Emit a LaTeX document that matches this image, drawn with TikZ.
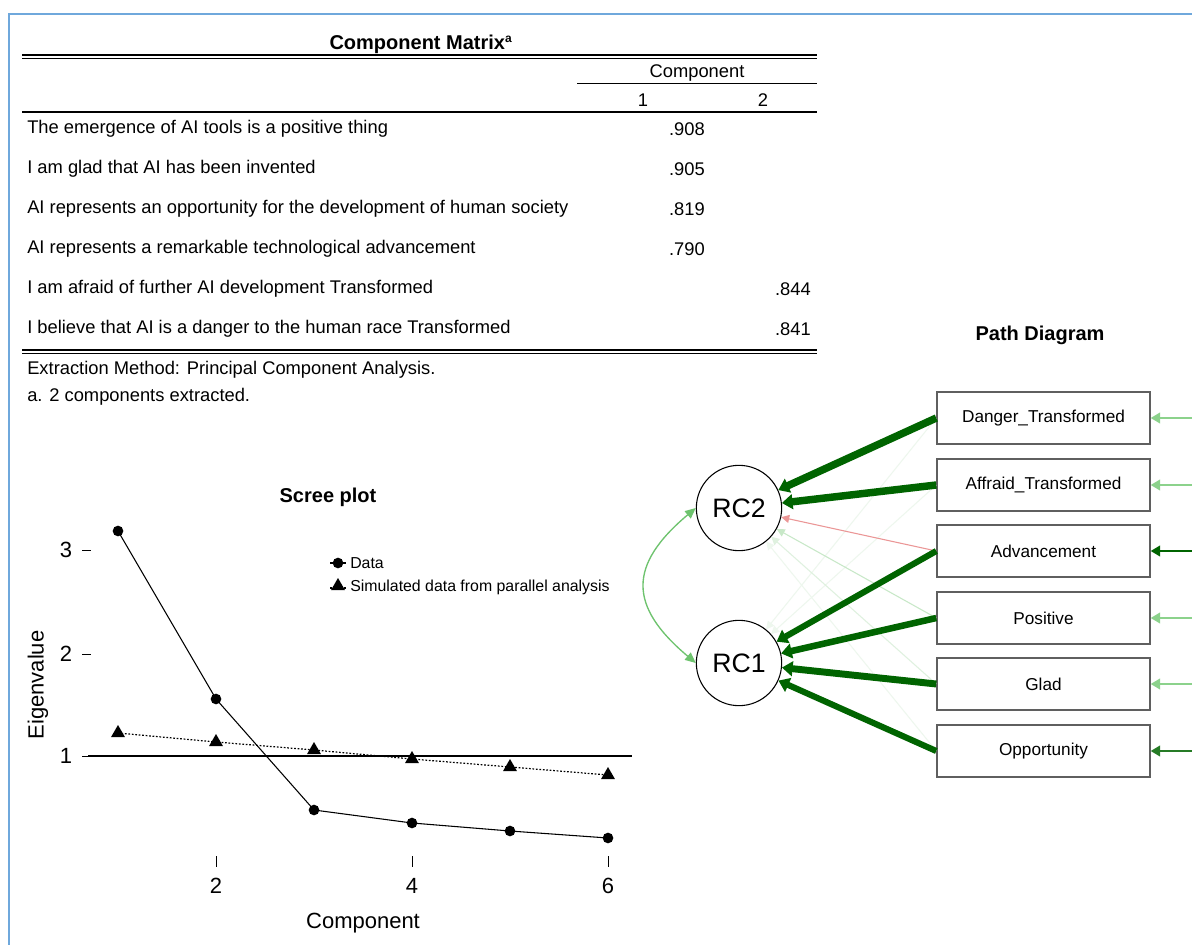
\documentclass[tikz,border=0pt]{standalone}
\usepackage{fontspec}
\setmainfont{Liberation Sans}
\usetikzlibrary{arrows.meta,shapes.geometric}
\definecolor{frameblue}{RGB}{111,168,220}
\definecolor{dgreen}{RGB}{0,100,0}
\definecolor{lgreen}{RGB}{110,195,110}
\definecolor{rgreen}{RGB}{140,210,140}
\definecolor{fgreen}{RGB}{200,232,200}
\definecolor{vfgreen}{RGB}{238,247,238}
\definecolor{lred}{RGB}{235,150,150}
\definecolor{boxgray}{RGB}{95,95,95}
\begin{document}
\begin{tikzpicture}[x=0.75pt,y=-0.75pt,
  every node/.style={font=\fontsize{13.75}{16}\selectfont},
  txt/.style={yshift=-1.5pt},
  rowtxt/.style={txt,anchor=west,inner sep=0pt},
  valtxt/.style={txt,anchor=east,inner sep=0pt},
  dot/.style={circle,fill=black,inner sep=0pt,minimum size=8pt},
  tri/.style={regular polygon,regular polygon sides=3,fill=black,inner sep=0pt,minimum size=12pt},
  axlab/.style={font=\fontsize{16.5}{19}\selectfont},
  legtxt/.style={anchor=west,inner sep=0pt,font=\fontsize{11.9}{14}\selectfont},
  obs/.style={draw=boxgray,line width=1.1pt,minimum width=159.75pt,minimum height=39pt,inner sep=0pt,font=\fontsize{12.9}{15}\selectfont},
  lat/.style={draw=black,line width=0.8pt,circle,minimum size=64pt,inner sep=0pt,font=\fontsize{20}{24}\selectfont},
  load/.style={draw=dgreen,-{Triangle[length=8pt,width=11pt]}},
  cross/.style={line width=0.8pt,-{Triangle[length=6pt,width=6pt]}},
  res/.style={line width=1.3pt,-{Triangle[length=7pt,width=8pt]}},
  ttl/.style={font=\bfseries\fontsize{15}{18}\selectfont}
]
\useasboundingbox (0,0) rectangle (1192,945);
\fill[white] (0,0) rectangle (1192,945);
\draw[frameblue,line width=1.6pt] (9,950) -- (9,14) -- (1200,14);

% ---------------- Component matrix table
\node[ttl] (ttitle) at (421,44) {Component Matrix\textsuperscript{\fontsize{9}{10}\selectfont a}};
\draw[line width=0.9pt] (22,55) -- (817,55);
\draw[line width=0.9pt] (22,58.5) -- (817,58.5);
\node[txt] (hcomp) at (697,71) {Component};
\draw[line width=0.75pt] (577,84) -- (817,84);
\node[txt] (hc1) at (643,98) {1};
\node[txt] (hc2) at (763,98) {2};
\draw[line width=2.2pt] (22,112) -- (817,112);
\node[rowtxt] (r1) at (27,127) {The emergence of AI tools is a positive thing};
\node[rowtxt] (r2) at (27,167) {I am glad that AI has been invented};
\node[rowtxt] (r3) at (27,207) {AI represents an opportunity for the development of human society};
\node[rowtxt] (r4) at (27,247) {AI represents a remarkable technological advancement};
\node[rowtxt] (r5) at (27,287) {I am afraid of further AI development Transformed};
\node[rowtxt] (r6) at (27,327) {I believe that AI is a danger to the human race Transformed};
\node[valtxt] (v1) at (705,127) {.908};
\node[valtxt] (v2) at (705,167) {.905};
\node[valtxt] (v3) at (705,207) {.819};
\node[valtxt] (v4) at (705,247) {.790};
\node[valtxt] (v5) at (811,287) {.844};
\node[valtxt] (v6) at (811,327) {.841};
\draw[line width=0.9pt] (22,350) -- (817,350);
\draw[line width=0.9pt] (22,353.5) -- (817,353.5);
\node[rowtxt] (f1) at (27,368) {Extraction Method: Principal Component Analysis.};
\node[rowtxt] (f2) at (27,395) {a. 2 components extracted.};

% ---------------- Scree plot
\node[ttl] (stitle) at (328,497) {Scree plot};
\draw[line width=0.9pt] (88,756) -- (632,756);
\foreach \v/\y in {3/550,2/654,1/756}{
  \node[axlab] (yl\v) at (66,\y) {\v};
  \draw[line width=0.6pt] (82,\y) -- (91,\y);
}
\foreach \c/\x in {2/216,4/412,6/608}{
  \draw[line width=0.6pt] (\x,856) -- (\x,867);
  \node[axlab] (xl\c) at (\x,886) {\c};
}
\node[axlab] (xlab) at (363,923) {Component};
\node[axlab,rotate=90] (ylab) at (38,685) {Eigenvalue};
% simulated
\node[tri] (t1) at (118,733) {};
\node[tri] (t2) at (216,742) {};
\node[tri] (t3) at (314,750) {};
\node[tri] (t4) at (412,759) {};
\node[tri] (t5) at (510,767) {};
\node[tri] (t6) at (608,775) {};
\draw[line width=0.9pt,dash pattern=on 1.3pt off 1.3pt] (t1.center) -- (t2.center) -- (t3.center) -- (t4.center) -- (t5.center) -- (t6.center);
% data
\node[dot] (d1) at (118,531) {};
\node[dot] (d2) at (216,699) {};
\node[dot] (d3) at (314,810) {};
\node[dot] (d4) at (412,823) {};
\node[dot] (d5) at (510,831) {};
\node[dot] (d6) at (608,838) {};
\draw[line width=0.8pt] (d1.center) -- (d2.center) -- (d3.center) -- (d4.center) -- (d5.center) -- (d6.center);
% legend
\node[dot] (ld) at (338,563) {};
\coordinate (ld1) at (330,563); \coordinate (ld2) at (346,563);
\draw[line width=0.8pt] (ld1) -- (ld2);
\node[legtxt] (ldt) at (350,563) {Data};
\node[tri] (lt) at (338,586) {};
\coordinate (lt1) at (330,588); \coordinate (lt2) at (346,588);
\draw[line width=0.8pt,dash pattern=on 1.3pt off 1.3pt] (lt1) -- (lt2);
\node[legtxt] (ltt) at (350,587) {Simulated data from parallel analysis};

% ---------------- Path diagram
\node[ttl] (ptitle) at (1040,335) {Path Diagram};
\node[obs] (dan) at (1043.5,418) {Danger\_Transformed};
\node[obs] (aff) at (1043.5,485) {Affraid\_Transformed};
\node[obs] (adv) at (1043.5,551) {Advancement};
\node[obs] (pos) at (1043.5,618) {Positive};
\node[obs] (gla) at (1043.5,684) {Glad};
\node[obs] (opp) at (1043.5,751) {Opportunity};
\node[lat] (rc2) at (739,508) {RC2};
\node[lat] (rc1) at (739,663) {RC1};
% cross loadings (faint)
\draw[cross,vfgreen] (dan.west) -- (rc1);
\draw[cross,vfgreen] (aff.west) -- (rc1);
\draw[cross,vfgreen] (opp.west) -- (rc2);
\draw[cross,vfgreen!60!fgreen] (gla.west) -- (rc2);
\draw[cross,fgreen] (pos.west) -- (rc2);
\draw[cross,lred] (adv.west) -- (rc2);
% main loadings
\draw[load,line width=5.6pt] (dan.west) -- (rc2);
\draw[load,line width=5.6pt] (aff.west) -- (rc2);
\draw[load,line width=4.6pt] (adv.west) -- (rc1);
\draw[load,line width=4.9pt] (pos.west) -- (rc1);
\draw[load,line width=5.2pt] (gla.west) -- (rc1);
\draw[load,line width=4.6pt] (opp.west) -- (rc1);
% residuals
\coordinate (e1) at (1192,418);
\coordinate (e2) at (1192,485);
\coordinate (e3) at (1192,551);
\coordinate (e4) at (1192,618);
\coordinate (e5) at (1192,684);
\coordinate (e6) at (1192,751);
\draw[res,rgreen] (e1) -- (dan.east);
\draw[res,rgreen] (e2) -- (aff.east);
\draw[res,dgreen] (e3) -- (adv.east);
\draw[res,rgreen] (e4) -- (pos.east);
\draw[res,rgreen] (e5) -- (gla.east);
\draw[res,dgreen!85!white] (e6) -- (opp.east);
% correlation
\draw[lgreen,line width=1pt,{Triangle[length=8pt,width=7pt]}-{Triangle[length=8pt,width=7pt]}] (rc2.west) .. controls (628,565) and (628,606) .. (rc1.west);
\end{tikzpicture}
\end{document}
